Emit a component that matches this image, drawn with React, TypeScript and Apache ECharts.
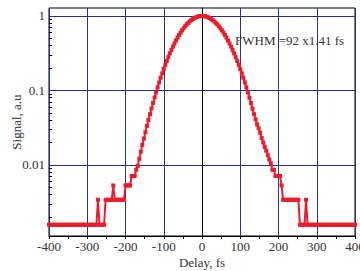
import { useEffect, useRef } from "react";
import * as echarts from "echarts";

// Delay (fs) and normalized signal
const signalPoints: [number, number][] = [
  [-400, 0.00157], [-396, 0.00157], [-392, 0.00157], [-388, 0.00157], [-384, 0.00157], [-380, 0.00157],
  [-376, 0.00157], [-372, 0.00157], [-368, 0.00157], [-364, 0.00157], [-360, 0.00157], [-356, 0.00157],
  [-352, 0.00157], [-348, 0.00157], [-344, 0.00157], [-340, 0.00157], [-336, 0.00157], [-332, 0.00157],
  [-328, 0.00157], [-324, 0.00157], [-320, 0.00157], [-316, 0.00157], [-312, 0.00157], [-308, 0.00157],
  [-304, 0.00157], [-300, 0.00157], [-296, 0.00157], [-292, 0.00157], [-288, 0.00157], [-284, 0.00157],
  [-280, 0.00157], [-276, 0.00157], [-272, 0.0034], [-268, 0.00157], [-264, 0.00157], [-260, 0.00157],
  [-256, 0.00157], [-252, 0.0034], [-248, 0.0034], [-244, 0.0034], [-240, 0.0034], [-236, 0.0034],
  [-232, 0.0053], [-228, 0.0034], [-224, 0.0034], [-220, 0.0034], [-216, 0.0034], [-212, 0.0034],
  [-208, 0.0034], [-204, 0.0034], [-200, 0.0053], [-196, 0.0053], [-192, 0.0053], [-188, 0.0053],
  [-184, 0.0071], [-180, 0.0071], [-176, 0.0071], [-172, 0.0086], [-168, 0.0097], [-164, 0.0121],
  [-160, 0.015], [-156, 0.0185], [-152, 0.0226], [-148, 0.0275], [-144, 0.0333], [-140, 0.0401],
  [-136, 0.0481], [-132, 0.0573], [-128, 0.0679], [-124, 0.0802], [-120, 0.0941], [-116, 0.11],
  [-112, 0.128], [-108, 0.148], [-104, 0.17], [-100, 0.194], [-96, 0.22], [-92, 0.249],
  [-88, 0.281], [-84, 0.314], [-80, 0.35], [-76, 0.388], [-72, 0.427], [-68, 0.468],
  [-64, 0.511], [-60, 0.554], [-56, 0.598], [-52, 0.642], [-48, 0.685], [-44, 0.728],
  [-40, 0.769], [-36, 0.808], [-32, 0.845], [-28, 0.879], [-24, 0.91], [-20, 0.937],
  [-16, 0.959], [-12, 0.977], [-8, 0.99], [-4, 0.997], [0, 1.0], [4, 0.997],
  [8, 0.99], [12, 0.977], [16, 0.959], [20, 0.937], [24, 0.91], [28, 0.879],
  [32, 0.845], [36, 0.808], [40, 0.769], [44, 0.728], [48, 0.685], [52, 0.642],
  [56, 0.598], [60, 0.554], [64, 0.511], [68, 0.468], [72, 0.427], [76, 0.388],
  [80, 0.35], [84, 0.314], [88, 0.281], [92, 0.249], [96, 0.22], [100, 0.194],
  [104, 0.17], [108, 0.148], [112, 0.128], [116, 0.11], [120, 0.094], [124, 0.08],
  [128, 0.068], [132, 0.057], [136, 0.048], [140, 0.041], [144, 0.035], [148, 0.031],
  [152, 0.027], [156, 0.023], [160, 0.02], [164, 0.0175], [168, 0.0155], [172, 0.0135],
  [176, 0.0118], [180, 0.0105], [184, 0.0086], [188, 0.0086], [192, 0.0071], [196, 0.0071],
  [200, 0.0071], [204, 0.0071], [208, 0.0053], [212, 0.0034], [216, 0.0034], [220, 0.0034],
  [224, 0.0034], [228, 0.0034], [232, 0.0034], [236, 0.0034], [240, 0.0034], [244, 0.0034],
  [248, 0.0034], [252, 0.0034], [256, 0.00157], [260, 0.00157], [264, 0.00157], [268, 0.00157],
  [272, 0.0034], [276, 0.00157], [280, 0.00157], [284, 0.00157], [288, 0.00157], [292, 0.00157],
  [296, 0.00157], [300, 0.00157], [304, 0.00157], [308, 0.00157], [312, 0.00157], [316, 0.00157],
  [320, 0.00157], [324, 0.00157], [328, 0.00157], [332, 0.00157], [336, 0.00157], [340, 0.00157],
  [344, 0.00157], [348, 0.00157], [352, 0.00157], [356, 0.00157], [360, 0.00157], [364, 0.00157],
  [368, 0.00157], [372, 0.00157], [376, 0.00157], [380, 0.00157], [384, 0.00157], [388, 0.00157],
  [392, 0.00157], [396, 0.00157], [400, 0.00157],
];

const yDecadeTicks = [0.01, 0.1, 1];
const yMinorTicks = [
  0.002, 0.003, 0.004, 0.005, 0.006, 0.007, 0.008, 0.009,
  0.02, 0.03, 0.04, 0.05, 0.06, 0.07, 0.08, 0.09,
  0.2, 0.3, 0.4, 0.5, 0.6, 0.7, 0.8, 0.9,
];
const xName = "Delay, fs";
const yName = "Signal, a.u";
const annotation = "FWHM =92 x1.41 fs";

const FONT = "'Liberation Serif', 'Times New Roman', serif";
const TEXT = "#333333";
const GRID = "#25338f";
const RED = "#ec1c2b";

export default function App() {
  const ref = useRef<HTMLDivElement>(null);
  useEffect(() => {
    document.body.style.margin = "0";
    if (!ref.current) return;
    const chart = echarts.init(ref.current, null, { renderer: "svg" });
    const yMin = 0.00111;
    const yMax = 1.28;
    chart.setOption({
      animation: false,
      grid: {
        left: 49,
        right: 5,
        top: 8,
        bottom: 35,
        containLabel: false,
        outerBoundsMode: "none",
        show: true,
        borderColor: "#000",
        borderWidth: 1,
        backgroundColor: "transparent",
      },
      xAxis: {
        type: "value",
        min: -400,
        max: 400,
        interval: 100,
        name: xName,
        nameLocation: "middle",
        nameGap: 20,
        nameMoveOverlap: false,
        nameTextStyle: { fontFamily: FONT, fontSize: 13, color: TEXT },
        axisLine: { show: true, lineStyle: { color: "#000", width: 1 } },
        axisTick: { show: true, inside: false, length: 3, lineStyle: { color: "#000" } },
        minorTick: { show: true, splitNumber: 2, length: 3, lineStyle: { color: "#000" } },
        axisLabel: { fontFamily: FONT, fontSize: 13, color: TEXT, margin: 4, hideOverlap: false },
        splitLine: { show: true, lineStyle: { color: GRID, width: 1 } },
      },
      yAxis: [
        {
          type: "log",
          logBase: 10,
          min: yMin,
          max: yMax,
          position: "left",
          name: yName,
          nameLocation: "middle",
          nameGap: 26,
          nameMoveOverlap: false,
          nameTextStyle: { fontFamily: FONT, fontSize: 13, color: TEXT },
          axisLine: { show: true, lineStyle: { color: "#000", width: 1 } },
          axisTick: {
            show: true,
            inside: true,
            length: 3,
            customValues: yDecadeTicks,
            lineStyle: { color: "#000" },
          },
          axisLabel: {
            fontFamily: FONT,
            fontSize: 13,
            color: TEXT,
            margin: 4,
            customValues: yDecadeTicks,
            formatter: (v: number) => String(Number(v.toPrecision(3))),
          },
          splitLine: { show: true, lineStyle: { color: GRID, width: 1 } },
        },
        {
          type: "log",
          logBase: 10,
          min: yMin,
          max: yMax,
          position: "left",
          axisLine: { show: false },
          axisLabel: { show: false },
          splitLine: { show: false },
          axisTick: {
            show: true,
            inside: true,
            length: 3,
            customValues: yMinorTicks,
            lineStyle: { color: "#000" },
          },
        },
      ],
      graphic: [
        {
          type: "text",
          left: 235,
          top: 34,
          z: 10,
          style: {
            text: annotation,
            fontFamily: FONT,
            fontSize: 13,
            fill: TEXT,
          },
        },
      ],
      series: [
        {
          type: "line",
          yAxisIndex: 0,
          data: signalPoints,
          symbol: "rect",
          symbolSize: 4,
          showAllSymbol: true,
          lineStyle: { color: RED, width: 2 },
          itemStyle: { color: RED },
          z: 5,
        },
      ],
    });
    return () => chart.dispose();
  }, []);
  return <div ref={ref} style={{ width: 360, height: 271 }} />;
}
